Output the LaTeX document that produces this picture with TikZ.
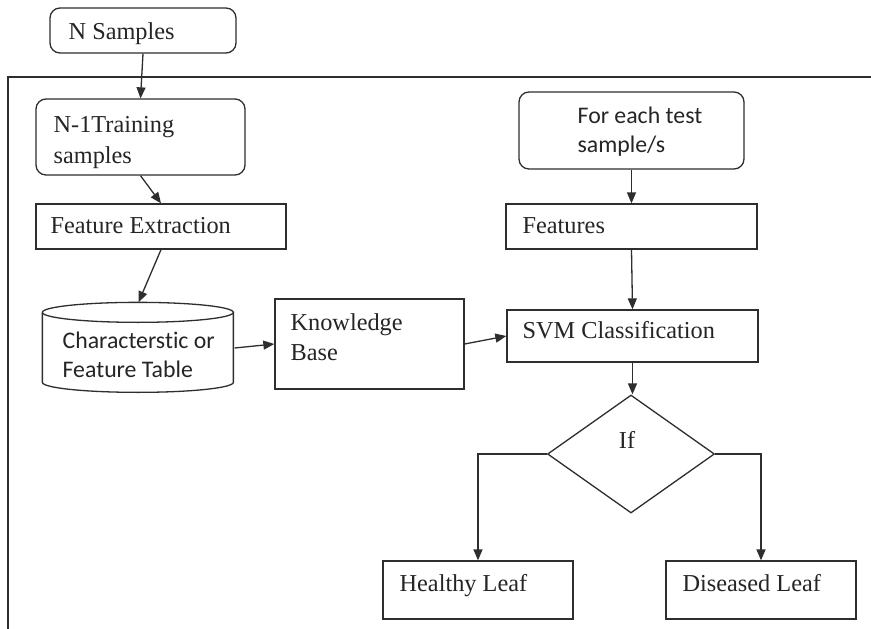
\documentclass[tikz,border=0pt]{standalone}
\usepackage{fontspec}
\setmainfont{Liberation Serif}
\newfontfamily\calfont[Ligatures=NoCommon]{Carlito}
\usetikzlibrary{arrows.meta,shapes.geometric}
\definecolor{ink}{HTML}{2E2E2E}
\begin{document}
\begin{tikzpicture}[x=1pt,y=-1pt,
  line width=1.3pt, draw=ink,
  box/.style={draw=ink, rectangle, inner sep=0pt, line width=1.3pt},
  rbox/.style={box, rounded corners=10pt},
  serif/.style={inner sep=0pt, anchor=base west, font=\fontsize{24.3}{30}\selectfont, text=ink!80!black},
  sans/.style={inner sep=0pt, anchor=base west, font=\calfont\fontsize{23.8}{29}\selectfont, text=ink!80!black},
  arr/.style={draw=ink, line width=1.3pt, -{Triangle[length=11pt,width=9pt]}}]
\useasboundingbox (0,0) rectangle (871,629);
\fill[white] (0,0) rectangle (871,629);

% outer frame, open on the right and at the bottom
\draw[ink] (871,77) -- (8,77) -- (8,629);

% training branch
\node[rbox, minimum width=186pt, minimum height=45pt] (ns) at (143,30.5) {};
\node[serif] (nst) at (68,39) {N Samples};

\node[rbox, minimum width=209pt, minimum height=76pt] (tr) at (140.5,137) {};
\node[serif] (trt1) at (53,132) {N-1Training};
\node[serif] (trt2) at (53,163) {samples};

\node[box, minimum width=250pt, minimum height=45pt] (fe) at (161,226.5) {};
\node[serif] (fet) at (50,233) {Feature Extraction};

% characteristic table drawn as a cylinder
\node[inner sep=0pt, minimum width=191pt, minimum height=90pt] (db) at (138.5,348) {};
\draw[ink, fill=white] (db.north west) ++(0,10) arc[start angle=180, end angle=-180, x radius=95.5pt, y radius=10pt];
\draw[ink] (db.north west) ++(0,10) -- ++(0,70) arc[start angle=180, end angle=360, x radius=95.5pt, y radius=10pt] -- ++(0,-70);
\node[sans] (dbt1) at (62,348) {Characterstic or};
\node[sans] (dbt2) at (62,377) {Feature Table};

\node[box, minimum width=189pt, minimum height=90pt] (kb) at (369.5,344) {};
\node[serif] (kbt1) at (290,330) {Knowledge};
\node[serif] (kbt2) at (290,360) {Base};

% testing branch
\node[rbox, minimum width=225pt, minimum height=77pt] (ts) at (631.5,130.5) {};
\node[sans] (tst1) at (577,123) {For each test};
\node[sans] (tst2) at (577,152) {sample/s};

\node[box, minimum width=251pt, minimum height=45pt] (ft) at (631.5,226.5) {};
\node[serif] (ftt) at (522,233) {Features};

\node[box, minimum width=251pt, minimum height=52pt] (svm) at (632.5,336) {};
\node[serif] (svmt) at (522,338) {SVM Classification};

\node[draw=ink, diamond, inner sep=0pt, minimum width=167pt, minimum height=118pt, line width=1.3pt] (dec) at (631,454) {};
\node[serif, anchor=base] (dect) at (627,448) {If};

\node[box, minimum width=190pt, minimum height=58pt] (hl) at (478,590) {};
\node[serif] (hlt) at (399,591) {Healthy Leaf};

\node[box, minimum width=190pt, minimum height=58pt] (dl) at (761,590) {};
\node[serif] (dlt) at (682,591) {Diseased Leaf};

% connectors
\draw[arr] (ns.south) -- (tr.north);
\draw[arr] (tr.south) -- (fe.north);
\draw[arr] (fe.south) -- (db.north);
\draw[arr] (db.east) -- (kb.west);
\draw[arr] (kb.east) -- (svm.west);
\draw[arr] (ts.south) -- (ft.north);
\draw[arr] (ft.south) -- (svm.north);
\draw[arr] (svm.south) -- (svm.south |- dec.north);
\draw[arr] (dec.west) -| (hl.north);
\draw[arr] (dec.east) -| (dl.north);
\end{tikzpicture}
\end{document}
